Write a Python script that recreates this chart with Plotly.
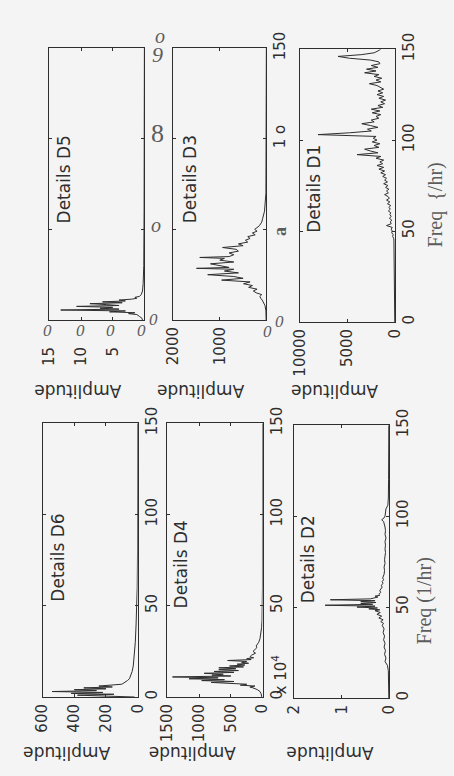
import plotly.graph_objects as go

W, H = 454, 776

# ---------------- data ----------------
d6_freq = [0, 0.5, 1, 1.5, 2, 2.5, 3, 3.5, 4, 4.5, 5, 5.5, 6, 7, 8, 9, 10, 12, 14, 17, 20, 25, 30, 40, 50, 60, 80, 100, 150]
d6_amp = [20, 180, 380, 150, 420, 220, 540, 260, 400, 200, 340, 160, 245, 100, 80, 65, 52, 42, 35, 28, 24, 19, 15, 10, 6, 3, 1, 0.5, 0]

d4_freq = [0, 1, 2, 3, 4, 5, 5.5, 6, 6.5, 7, 7.5, 8, 8.5, 9, 9.5, 10, 10.5, 11, 11.5, 12, 12.5, 13, 13.5, 14, 14.5,
           15, 15.5, 16, 16.5, 17, 17.5, 18, 18.5, 19, 19.5, 20, 20.5, 21, 21.5, 22, 23, 24, 25, 26, 27, 28, 30, 32,
           35, 38, 42, 50, 60, 150]
d4_amp = [10, 15, 25, 40, 80, 150, 200, 120, 350, 250, 500, 810, 450, 960, 600, 1160, 700, 1420, 500, 800, 620, 920,
          450, 765, 380, 690, 420, 690, 300, 520, 280, 400, 220, 330, 250, 550, 180, 250, 140, 200, 170, 110, 150, 120,
          90, 100, 60, 40, 25, 15, 8, 3, 1, 0]

d2_freq = [0, 5, 10, 15, 18, 20, 22, 24, 26, 28, 30, 32, 34, 36, 38, 40, 41, 42, 43, 44, 45, 46, 47, 48, 48.5, 49,
           49.5, 50, 50.5, 51, 51.5, 52, 52.5, 53, 53.5, 54, 54.5, 55, 55.5, 56, 56.5, 57, 58, 59, 60, 61, 62, 63, 64,
           65, 66, 68, 70, 72, 74, 76, 78, 80, 82, 84, 86, 88, 90, 92, 94, 96, 97, 98, 99, 100, 102, 104, 106, 110,
           120, 135, 150]
d2_amp = [100, 100, 150, 200, 400, 900, 700, 1000, 800, 1100, 900, 1200, 1000, 1300, 1100, 1500, 1200, 1800, 1300,
          2200, 1600, 2600, 1900, 3000, 2000, 4300, 2500, 6800, 3000, 13500, 3500, 6000, 2800, 6000, 3000, 12400,
          4000, 3300, 2400, 3000, 2000, 2200, 1800, 2000, 1800, 1500, 1700, 1300, 1500, 1200, 1400, 1100, 1000, 1100,
          900, 1000, 900, 800, 900, 800, 900, 700, 900, 800, 900, 1000, 1200, 1600, 1100, 900, 800, 700, 300, 200,
          150, 100, 100]

d5_freq = [0, 1, 2, 3, 3.5, 4, 4.5, 5, 5.5, 6, 6.5, 7, 7.5, 8, 8.5, 9, 9.5, 10, 10.5, 11, 11.5, 12, 12.5, 13, 14,
           16, 20, 30, 60, 150]
d5_amp = [0.3, 0.4, 0.8, 1.2, 2.5, 1.5, 5.5, 3, 13.2, 4, 7, 5, 10.7, 4, 6, 8.6, 3.5, 6.6, 3, 4, 2, 1.2, 1.5, 0.8,
          0.5, 0.3, 0.2, 0.1, 0.05, 0]

d3_freq = [0, 5, 8, 10, 11, 12, 13, 14, 15, 16, 17, 18, 19, 20, 21, 22, 23, 24, 25, 26, 27, 28, 28.5, 29, 30, 31,
           32, 33, 34, 34.5, 35, 36, 37, 38, 39, 40, 41, 42, 43, 44, 45, 46, 47, 48, 49, 50, 52, 54, 56, 60, 70, 150]
d3_amp = [5, 10, 30, 60, 90, 120, 140, 100, 220, 280, 200, 380, 300, 490, 350, 960, 500, 700, 1260, 600, 900, 700,
          1500, 800, 1000, 1200, 700, 1000, 900, 1430, 800, 700, 800, 600, 650, 940, 500, 600, 400, 450, 350, 400,
          240, 300, 200, 250, 150, 100, 80, 40, 10, 0]

d1_freq = [0, 39, 40, 41, 42, 43, 44, 45, 46, 47, 48, 49, 50, 51, 52, 53, 54, 55, 56, 57, 58, 59, 60, 61, 62, 63,
           64, 65, 66, 67, 68, 69, 70, 71, 72, 73, 74, 75, 76, 77, 78, 79, 80, 81, 82, 83, 84, 85, 86, 87, 88, 89,
           90, 91, 92, 93, 94, 95, 96, 97, 98, 99, 100, 101, 102, 103, 104, 105, 106, 107, 108, 109, 110, 111, 112,
           113, 114, 115, 116, 117, 118, 119, 120, 121, 122, 123, 124, 125, 126, 127, 128, 129, 130, 131, 132, 133,
           134, 135, 136, 137, 138, 139, 140, 141, 142, 143, 144, 145, 146, 147, 148, 149, 150]
d1_amp = [30, 40, 50, 80, 60, 100, 80, 120, 150, 250, 200, 350, 300, 400, 300, 900, 400, 500, 350, 600, 400, 550,
          450, 700, 500, 650, 450, 800, 550, 900, 600, 750, 1100, 700, 900, 650, 1000, 750, 1200, 800, 1100, 900,
          1300, 1000, 1500, 1100, 1700, 1200, 1900, 1300, 1600, 1200, 2000, 1500, 4000, 1800, 2600, 3200, 1700,
          2200, 1600, 2400, 1900, 2300, 2000, 8100, 4800, 2500, 2900, 1800, 2600, 3500, 2200, 2500, 1700, 2000,
          1500, 2400, 1600, 2500, 1300, 1800, 1100, 1500, 1000, 1700, 1200, 1900, 1300, 1800, 1200, 1600, 1900,
          2700, 1500, 2000, 1400, 2200, 1700, 3200, 2000, 3000, 1800, 2500, 1600, 1700, 2600, 4800, 6000, 3500,
          2200, 1800, 1500]

freq_ticks = [0, 50, 100, 150]
freq_labels = ["0", "50", "100", "150"]

# ---------------- styling ----------------
FONT = "DejaVu Sans"
SERIF = "Liberation Serif"
INK = "#2e2e2e"
GREY = "#5c5c5c"
BG = "#f4f4f4"

panels = [
    dict(name="D6", freq=d6_freq, amp=d6_amp, xmax=600, xtv=[600, 400, 200, 0], xtt=["600", "400", "200", "0"],
         ytt=freq_labels, box=(35, 134, 417, 698), showy=True, stand=0),
    dict(name="D4", freq=d4_freq, amp=d4_amp, xmax=1500, xtv=[1500, 1000, 500, 0],
         xtt=["1500", "1000", "500", "0"], ytt=freq_labels, box=(165, 264, 417, 698), showy=True, stand=0),
    dict(name="D2", freq=d2_freq, amp=d2_amp, xmax=20000, xtv=[20000, 10000, 0], xtt=["2", "1", "0"],
         ytt=freq_labels, box=(297, 396, 419, 699), showy=True, stand=0),
    dict(name="D5", freq=d5_freq, amp=d5_amp, xmax=15, xtv=[15, 10, 5, 0], xtt=["15", "10", "5", ""],
         ytt=freq_labels, box=(42, 141, 32, 311), showy=False, stand=20),
    dict(name="D3", freq=d3_freq, amp=d3_amp, xmax=2000, xtv=[2000, 1000, 0], xtt=["2000", "1000", ""],
         ytt=["", "", "1 o", "150"], box=(171, 268, 32, 311), showy=True, stand=0),
    dict(name="D1", freq=d1_freq, amp=d1_amp, xmax=10000, xtv=[10000, 5000, 0], xtt=["10000", "5000", "0"],
         ytt=freq_labels, box=(303, 402, 33, 313), showy=True, stand=0),
]

fig = go.Figure()
layout = dict(width=W, height=H, margin=dict(l=0, r=0, t=0, b=0), paper_bgcolor=BG, plot_bgcolor=BG,
              showlegend=False)

for i, p in enumerate(panels, start=1):
    n = "" if i == 1 else str(i)
    fig.add_trace(go.Scatter(x=p["amp"], y=p["freq"], mode="lines", line=dict(color=INK, width=1),
                             xaxis="x" + n, yaxis="y" + n, hoverinfo="skip"))
    x0, x1, y0, y1 = p["box"]
    common = dict(ticks="inside", ticklen=3, tickcolor=INK, showline=True, linecolor=INK, linewidth=1,
                  mirror="ticks", showgrid=False, zeroline=False, tickangle=-90, fixedrange=True,
                  tickfont=dict(family=FONT, size=15, color=INK))
    layout["xaxis" + n] = dict(domain=[x0 / W, x1 / W], range=[p["xmax"], 0], anchor="y" + n,
                               tickmode="array", tickvals=p["xtv"], ticktext=p["xtt"],
                               ticklabelstandoff=p["stand"], **common)
    layout["yaxis" + n] = dict(domain=[1 - y1 / H, 1 - y0 / H], range=[0, 150], anchor="x" + n, side="right",
                               tickmode="array", tickvals=freq_ticks, ticktext=p["ytt"],
                               showticklabels=p["showy"], **common)


def P(x, y):
    return x / W, 1 - y / H


ann = []


def add(x, y, text, size=15, angle=0, family=FONT, color=INK, style="normal", weight="normal"):
    ax, ay = P(x, y)
    ann.append(dict(x=ax, y=ay, xref="paper", yref="paper", text=text, showarrow=False, textangle=angle,
                    xanchor="center", yanchor="middle",
                    font=dict(family=family, size=size, color=color, style=style, weight=weight)))


# panel captions
for (cx, cy, t) in [(57, 167, "Details D5"), (188, 167, "Details D3"), (318, 176, "Details D1"),
                    (51, 555, "Details D6"), (179, 562, "Details D4"), (311, 557, "Details D2")]:
    add(cx, cy, t, size=17, angle=-90)

# Amplitude labels (upside down)
for (cx, cy) in [(72, 384), (200, 384), (339, 384), (60, 756), (191, 756), (334, 756)]:
    add(cx, cy, "Amplitude", size=17, angle=180)

# Frequency labels
add(433, 599, "Freq (1/hr)", size=20, angle=-90, family=SERIF, color=GREY)
add(444, 193, "Freq  {/hr)", size=20, angle=-90, family=SERIF, color=GREY)

# exponent label
add(281, 675, "x 10<sup>4</sup>", size=15, angle=-90)

# scanned / OCR-altered glyphs
add(157, 20, "o", size=20, family=SERIF, color=GREY, style="italic")
add(155, 38, "9", size=22, family=SERIF, color=GREY, style="italic")
add(155, 120, "8", size=26, family=SERIF, color=GREY)
add(153, 213, "o", size=20, family=SERIF, color=GREY, style="italic")
add(150, 310, "0", size=17, family=SERIF, color=GREY, style="italic")
for cx in [40, 74, 106, 138]:
    add(cx, 322, "0", size=17, family=SERIF, color=GREY, style="italic")
add(283, 220, "a", size=18, angle=-90, family=SERIF, color=GREY, weight="bold")
add(282, 313, "0", size=17, family=SERIF, color=GREY, style="italic")
add(269, 323, "0", size=17, family=SERIF, color=GREY, style="italic")

layout["annotations"] = ann
fig.update_layout(**layout)
fig.write_html("out.html")
